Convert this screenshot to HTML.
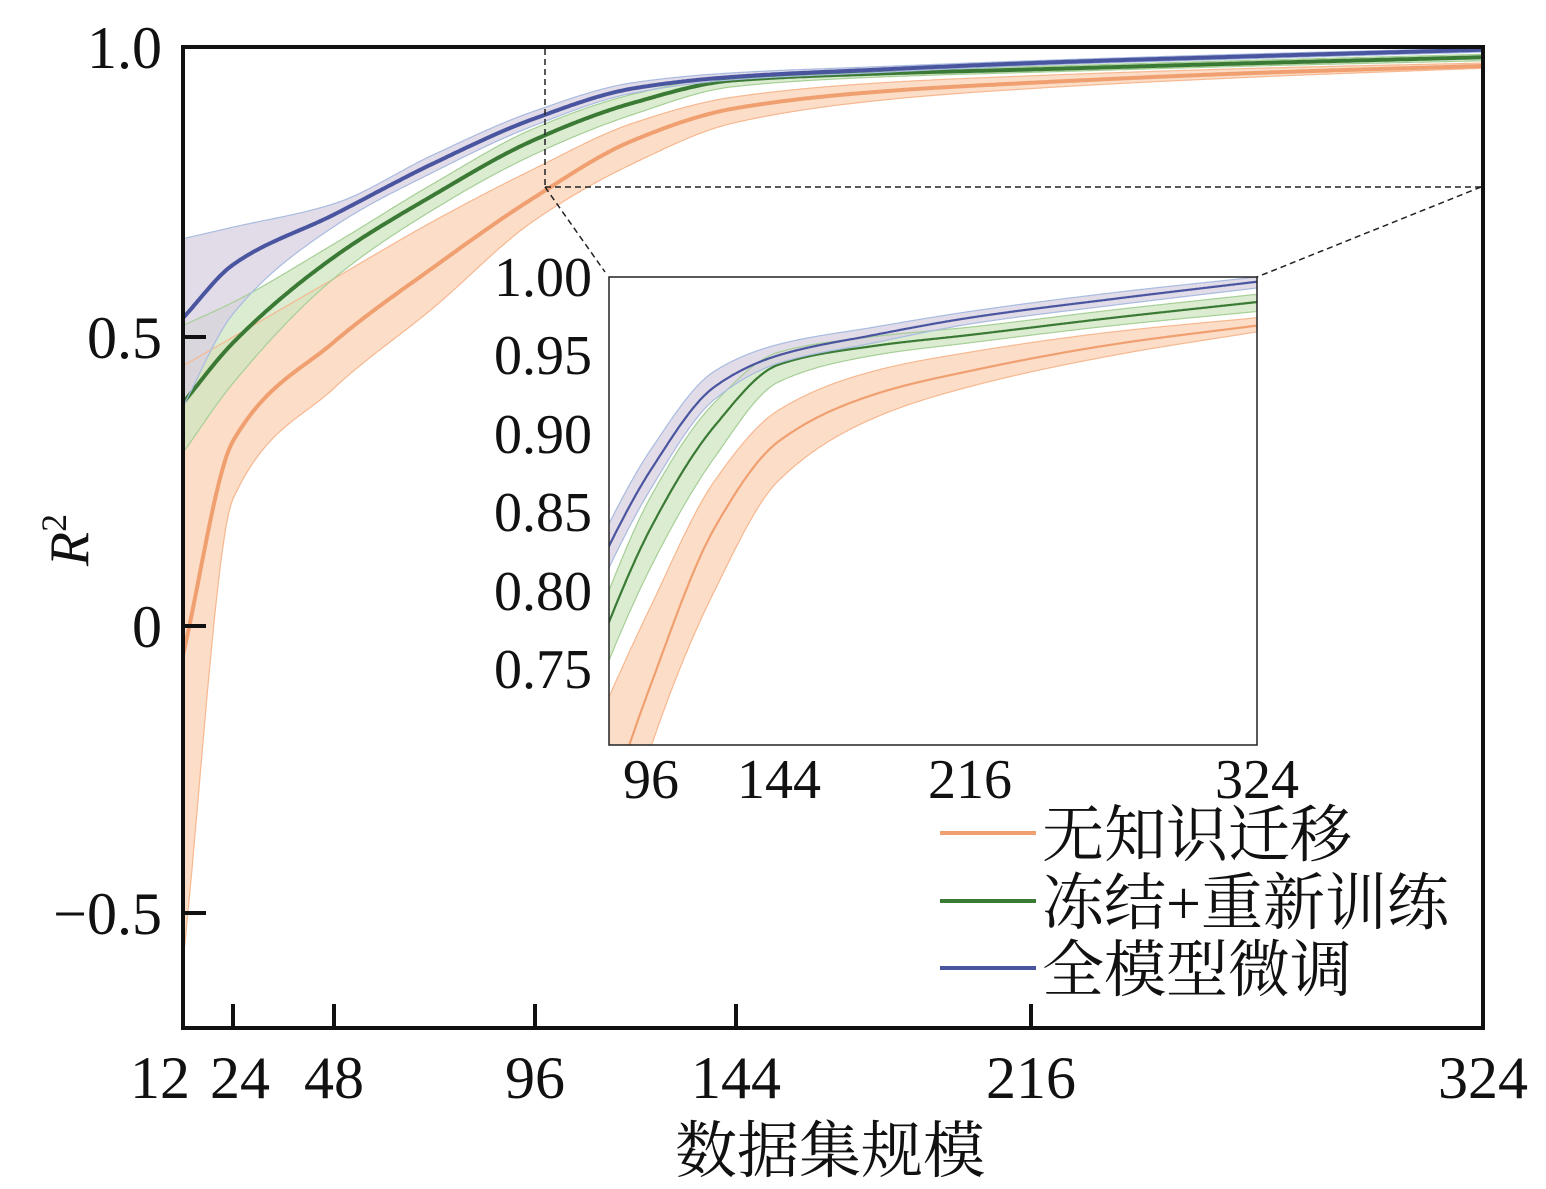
<!DOCTYPE html>
<html><head><meta charset="utf-8">
<style>
html,body{margin:0;padding:0;background:#fff;}
svg{display:block;}
text{font-family:"Liberation Serif","Noto Serif CJK SC",serif;fill:#111;}
.cjk{font-family:"Liberation Serif","Noto Serif CJK SC","Noto Sans CJK SC",serif;}
</style></head>
<body>
<svg id="s" width="1546" height="1189" viewBox="0 0 1546 1189" xmlns="http://www.w3.org/2000/svg">
<defs>
<clipPath id="cm"><rect x="183" y="47" width="1300" height="981"/></clipPath>
<clipPath id="ci"><rect x="609" y="277" width="648" height="468"/></clipPath>
</defs>
<g id="main" clip-path="url(#cm)"></g>
<rect x="183" y="47" width="1300" height="981" fill="none" stroke="#111" stroke-width="4"/>
<g stroke="#222" stroke-width="1.5" stroke-dasharray="6,4" fill="none">
<line x1="545" y1="49" x2="545" y2="187"/>
<line x1="545" y1="187" x2="1481" y2="187"/>
<line x1="545" y1="187" x2="605" y2="272"/>
<line x1="1481" y1="187" x2="1257" y2="277"/>
</g>
<g stroke="#111" stroke-width="4">
<line x1="183" y1="337" x2="206" y2="337"/>
<line x1="183" y1="626" x2="206" y2="626"/>
<line x1="183" y1="913" x2="206" y2="913"/>
<line x1="233" y1="1028" x2="233" y2="1004"/>
<line x1="334" y1="1028" x2="334" y2="1004"/>
<line x1="535" y1="1028" x2="535" y2="1004"/>
<line x1="736" y1="1028" x2="736" y2="1004"/>
<line x1="1031" y1="1028" x2="1031" y2="1004"/>
</g>
<g font-size="60" text-anchor="end">
<text x="162" y="68">1.0</text>
<text x="162" y="358">0.5</text>
<text x="162" y="647">0</text>
<text x="162" y="934">−0.5</text>
</g>
<g font-size="60" text-anchor="middle">
<text x="160" y="1098">12</text>
<text x="240" y="1098">24</text>
<text x="334" y="1098">48</text>
<text x="535" y="1098">96</text>
<text x="736" y="1098">144</text>
<text x="1031" y="1098">216</text>
<text x="1483" y="1098">324</text>
</g>
<text class="cjk" x="830" y="1172" font-size="62" text-anchor="middle">数据集规模</text>
<text x="68" y="560" font-size="56" font-style="italic" transform="rotate(-90 68 540)" text-anchor="middle">R<tspan font-size="36" dy="-22" font-style="normal">2</tspan></text>

<rect x="609" y="277" width="648" height="468" fill="#fff"/>
<g id="ins" clip-path="url(#ci)"></g>
<rect x="609" y="277" width="648" height="468" fill="none" stroke="#222" stroke-width="1.5"/>
<g font-size="56" text-anchor="end">
<text x="592" y="296">1.00</text>
<text x="592" y="374">0.95</text>
<text x="592" y="453">0.90</text>
<text x="592" y="531">0.85</text>
<text x="592" y="610">0.80</text>
<text x="592" y="688">0.75</text>
</g>
<g font-size="56" text-anchor="middle">
<text x="651" y="798">96</text>
<text x="779" y="798">144</text>
<text x="970" y="798">216</text>
<text x="1257" y="798">324</text>
</g>
<g stroke-width="4">
<line x1="940" y1="833" x2="1036" y2="833" stroke="#f0a070"/>
<line x1="940" y1="901" x2="1036" y2="901" stroke="#3a7a35"/>
<line x1="940" y1="968" x2="1036" y2="968" stroke="#4a55a0"/>
</g>
<g font-size="62">
<text class="cjk" x="1042" y="856">无知识迁移</text>
<text class="cjk" x="1042" y="924">冻结+重新训练</text>
<text class="cjk" x="1042" y="991">全模型微调</text>
</g>
</svg>
<script>
var X=[12,24,48,72,96,120,144,180,216,270,324];
var S={
o:{c:"#f0a070",f:"#fbd2b5",e:"#f6b890",
 m:[-0.05,0.32,0.49,0.62,0.74,0.84,0.895,0.925,0.94,0.957,0.969],
 lo:[-0.58,0.22,0.41,0.55,0.70,0.80,0.87,0.91,0.93,0.95,0.965],
 hi:[0.45,0.50,0.60,0.70,0.79,0.87,0.915,0.94,0.952,0.965,0.974]},
g:{c:"#3a7a35",f:"#cfe6c2",e:"#a6cf96",
 m:[0.386,0.49,0.637,0.745,0.84,0.905,0.944,0.956,0.963,0.974,0.984],
 lo:[0.30,0.42,0.60,0.72,0.815,0.885,0.933,0.95,0.958,0.969,0.978],
 hi:[0.52,0.56,0.66,0.765,0.86,0.92,0.952,0.962,0.968,0.979,0.989]},
b:{c:"#4a55a0",f:"#d8cfe0",e:"#a8bce0",
 m:[0.533,0.625,0.711,0.80,0.877,0.93,0.95,0.963,0.974,0.986,0.997],
 lo:[0.38,0.54,0.69,0.785,0.865,0.922,0.945,0.958,0.970,0.982,0.993],
 hi:[0.67,0.69,0.73,0.815,0.89,0.94,0.957,0.968,0.978,0.99,1.0]}
};
function pchip(xs,ys){var n=xs.length,d=[],h=[],m=[];
for(var i=0;i<n-1;i++){h[i]=xs[i+1]-xs[i];d[i]=(ys[i+1]-ys[i])/h[i];}
m[0]=d[0];m[n-1]=d[n-2];
for(i=1;i<n-1;i++){if(d[i-1]*d[i]<=0)m[i]=0;else{var w1=2*h[i]+h[i-1],w2=h[i]+2*h[i-1];m[i]=(w1+w2)/(w1/d[i-1]+w2/d[i]);}}
return function(x){var i=0;while(i<n-2&&x>xs[i+1])i++;var t=(x-xs[i])/h[i],t2=t*t,t3=t2*t;
return (2*t3-3*t2+1)*ys[i]+(t3-2*t2+t)*h[i]*m[i]+(-2*t3+3*t2)*ys[i+1]+(t3-t2)*h[i]*m[i+1];};}
function draw(gid,px,py,x0,x1,lw){
var g=document.getElementById(gid),out="";
["o","g","b"].forEach(function(k){var s=S[k],fm=pchip(X,s.m),fl=pchip(X,s.lo),fh=pchip(X,s.hi);
var up=[],dn=[],mm=[];for(var x=x0;x<=x1+0.001;x+=(x1-x0)/600){up.push(px(x).toFixed(1)+","+py(fh(x)).toFixed(1));dn.push(px(x).toFixed(1)+","+py(fl(x)).toFixed(1));mm.push(px(x).toFixed(1)+","+py(fm(x)).toFixed(1));}
out+='<polygon points="'+up.join(" ")+" "+dn.slice().reverse().join(" ")+'" fill="'+s.f+'" fill-opacity="0.75" stroke="none"/>';
s.pu=up;s.pd=dn;s.pm=mm;});
["o","g","b"].forEach(function(k){var s=S[k];
out+='<polyline points="'+s.pu.join(" ")+'" fill="none" stroke="'+s.e+'" stroke-width="1.2"/>';
out+='<polyline points="'+s.pd.join(" ")+'" fill="none" stroke="'+s.e+'" stroke-width="1.2"/>';
out+='<polyline points="'+s.pm.join(" ")+'" fill="none" stroke="'+s.c+'" stroke-width="'+lw+'"/>';});
g.innerHTML=out;}
draw("main",function(x){return 183+(x-12)*1300/312;},function(r){return 626-578*r;},12,324,4);
draw("ins",function(x){return 651+(x-96)*606/228;},function(r){return 277+(1-r)*1566;},78,324,2.2);
</script>
</body></html>
